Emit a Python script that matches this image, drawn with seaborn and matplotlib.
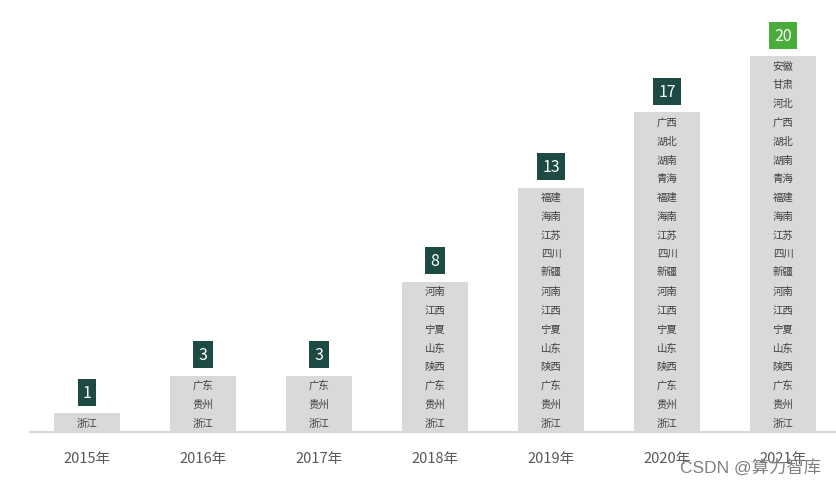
import matplotlib
matplotlib.use("Agg")
import matplotlib.pyplot as plt
import seaborn as sns
import pandas as pd

years = ["2015年", "2016年", "2017年", "2018年", "2019年", "2020年", "2021年"]
counts = [1, 3, 3, 8, 13, 17, 20]
# provinces in order of joining (bottom of the stack first)
provinces = ["浙江", "贵州", "广东", "陕西", "山东", "宁夏", "江西", "河南",
             "新疆", "四川", "江苏", "海南", "福建",
             "青海", "湖南", "湖北", "广西",
             "河北", "甘肃", "安徽"]

sns.set_theme(style="white")
plt.rcParams["font.family"] = ["Noto Sans CJK SC", "DejaVu Sans"]

df = pd.DataFrame({"year": years, "count": counts})

fig = plt.figure(figsize=(8.36, 4.85), dpi=100)
W, H = 836, 485
ax = fig.add_axes([30 / W, 52 / H, 1 - 30 / W, 433 / H])

sns.barplot(data=df, x="year", y="count", color="#d9d9d9", width=0.57,
            saturation=1, ax=ax, edgecolor="none")

ax.set_xlim(-57 / 116, 749 / 116)
ax.set_ylim(0, 433 / 18.8)

for i, c in enumerate(counts):
    for j, name in enumerate(provinces[:c]):
        ax.text(i, j + 0.5, name, ha="center", va="center", fontsize=7.5,
                color="#404040")
    fc = "#4aac3a" if i == len(counts) - 1 else "#1d4a42"
    ax.annotate(str(c), xy=(i, c), xytext=(0, 15), textcoords="offset points",
                ha="center", va="center", fontsize=11.5, color="white",
                bbox=dict(boxstyle="square,pad=0.32", fc=fc, ec="none"))

for s in ["top", "right", "left"]:
    ax.spines[s].set_visible(False)
ax.spines["bottom"].set_color("#d9d9d9")
ax.spines["bottom"].set_linewidth(1.5)
ax.set_yticks([])
ax.set_xlabel("")
ax.set_ylabel("")
ax.tick_params(axis="x", length=0, pad=14, labelsize=10.5, labelcolor="#595959")

fig.text(821 / W, 1 - 467 / H, "CSDN @算力智库", ha="right", va="center",
         fontsize=12.5, color="#808080",
         family=["Liberation Sans", "Noto Sans CJK SC"])

fig.savefig("out.png", dpi=100)
